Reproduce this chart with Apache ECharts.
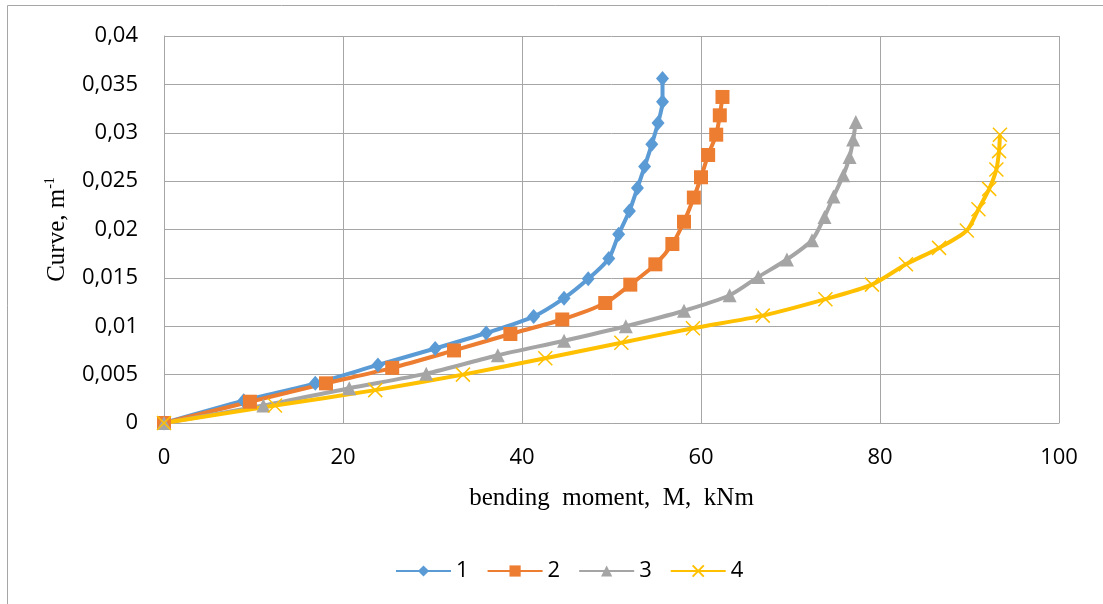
<!DOCTYPE html>
<html>
<head>
<meta charset="utf-8">
<script src="https://cdn.jsdelivr.net/npm/echarts@6/dist/echarts.min.js"></script>
<style>
  html, body { margin: 0; padding: 0; background: #fff; }
  #chartmain { width: 1103px; height: 604px; }
</style>
</head>
<body>
<div id="chartmain"></div>
<script>
// bending moment (kNm) and curve (1/m)
var s1x = [0, 8.9, 16.9, 23.9, 30.3, 36.0, 41.3, 44.7, 47.4, 49.7, 50.8, 52.0, 52.9, 53.7, 54.5, 55.2, 55.7, 55.7]
var s1y = [0, 0.0023, 0.0041, 0.006, 0.0077, 0.0093, 0.011, 0.0129, 0.0149, 0.017, 0.0195, 0.0219, 0.0243, 0.0265, 0.0288, 0.031, 0.0332, 0.0356]
var s2x = [0, 9.6, 18.1, 25.5, 32.4, 38.7, 44.5, 49.3, 52.1, 54.9, 56.8, 58.1, 59.2, 60.0, 60.8, 61.7, 62.1, 62.4]
var s2y = [0, 0.0022, 0.0041, 0.0057, 0.0075, 0.0092, 0.0107, 0.0124, 0.0143, 0.0164, 0.0185, 0.0208, 0.0233, 0.0254, 0.0277, 0.0298, 0.0318, 0.0337]
var s3x = [0, 11.1, 20.7, 29.3, 37.3, 44.7, 51.6, 58.1, 63.2, 66.4, 69.6, 72.4, 73.8, 74.8, 75.9, 76.6, 77.0, 77.3]
var s3y = [0, 0.0018, 0.0036, 0.0051, 0.007, 0.0085, 0.01, 0.0116, 0.0132, 0.0151, 0.0169, 0.0189, 0.0213, 0.0234, 0.0256, 0.0275, 0.0293, 0.0311]
var s4x = [0, 12.4, 23.6, 33.4, 42.6, 51.1, 59.1, 66.9, 73.9, 79.1, 82.9, 86.6, 89.7, 91.0, 92.2, 93.0, 93.3, 93.4]
var s4y = [0, 0.0018, 0.0034, 0.005, 0.0067, 0.0083, 0.0098, 0.0111, 0.0128, 0.0143, 0.0164, 0.0181, 0.0199, 0.0221, 0.0242, 0.0262, 0.0281, 0.0298]
var names = ['1', '2', '3', '4']

function pairs(xs, ys) {
  var out = []
  for (var i = 0; i < xs.length; i++) out.push([xs[i], ys[i]])
  return out
}

var labelFont = '"Open Sans", "Liberation Sans", sans-serif'
var titleFont = '"Liberation Serif", "Times New Roman", serif'
var gridColor = '#a6a6a6'

function lineSeries(name, data, color, symbol, size) {
  return {
    name: name,
    type: 'line',
    data: data,
    smooth: 0.25,
    symbol: symbol,
    symbolSize: size,
    showAllSymbol: true,
    lineStyle: { color: color, width: 4 },
    itemStyle: { color: color, borderColor: color, borderWidth: 0 },
  }
}

var s4 = lineSeries(names[3], pairs(s4x, s4y), '#ffc000', 'path://M0,0L10,10M10,0L0,10', 14)
s4.itemStyle = { color: 'none', borderColor: '#ffc000', borderWidth: 1.5 }

var option = {
  backgroundColor: '#fff',
  animation: false,
  graphic: [
    {
      type: 'rect',
      shape: { x: 7.5, y: 5.5, width: 1200, height: 700 },
      style: { fill: 'none', stroke: '#a6a6a6', lineWidth: 1 },
      silent: true,
    },
  ],
  grid: { left: 164, right: 44, top: 36, bottom: 181 },
  legend: {
    left: 390,
    top: 555,
    itemWidth: 55,
    itemHeight: 14,
    itemGap: 18,
    textStyle: { fontFamily: labelFont, fontSize: 22, color: '#000' },
    data: names,
  },
  xAxis: {
    type: 'value',
    min: 0,
    max: 100,
    interval: 20,
    name: 'bending  moment,  M,  kNm',
    nameLocation: 'middle',
    nameGap: 63,
    nameTextStyle: { fontFamily: titleFont, fontSize: 25, color: '#000' },
    axisLine: { show: true, lineStyle: { color: gridColor } },
    axisTick: { show: false },
    axisLabel: { fontFamily: labelFont, fontSize: 22, color: '#000', margin: 24 },
    splitLine: { show: true, lineStyle: { color: gridColor, width: 1 } },
  },
  yAxis: {
    type: 'value',
    min: 0,
    max: 0.04,
    interval: 0.005,
    name: '{a|Curve, m}{s|-1}',
    nameLocation: 'middle',
    nameGap: 93,
    nameRotate: 90,
    nameTextStyle: {
      rich: {
        a: { fontFamily: titleFont, fontSize: 25, color: '#000', lineHeight: 28 },
        s: { fontFamily: titleFont, fontSize: 14, color: '#000', lineHeight: 28, verticalAlign: 'top', padding: [0, 0, 10, 0] },
      },
    },
    axisLine: { show: true, lineStyle: { color: gridColor } },
    axisTick: { show: false },
    axisLabel: {
      fontFamily: labelFont,
      fontSize: 22,
      color: '#000',
      margin: 26,
      formatter: function (v) {
        return String(+v.toFixed(3)).replace('.', ',')
      },
    },
    splitLine: { show: true, lineStyle: { color: gridColor, width: 1 } },
  },
  series: [
    lineSeries(names[0], pairs(s1x, s1y), '#5b9bd5', 'diamond', [13, 15]),
    lineSeries(names[1], pairs(s2x, s2y), '#ed7d31', 'rect', 14),
    lineSeries(names[2], pairs(s3x, s3y), '#a5a5a5', 'triangle', 14),
    s4,
  ],
}

var myChart = echarts.init(document.getElementById('chartmain'))
myChart.setOption(option)
</script>
</body>
</html>
